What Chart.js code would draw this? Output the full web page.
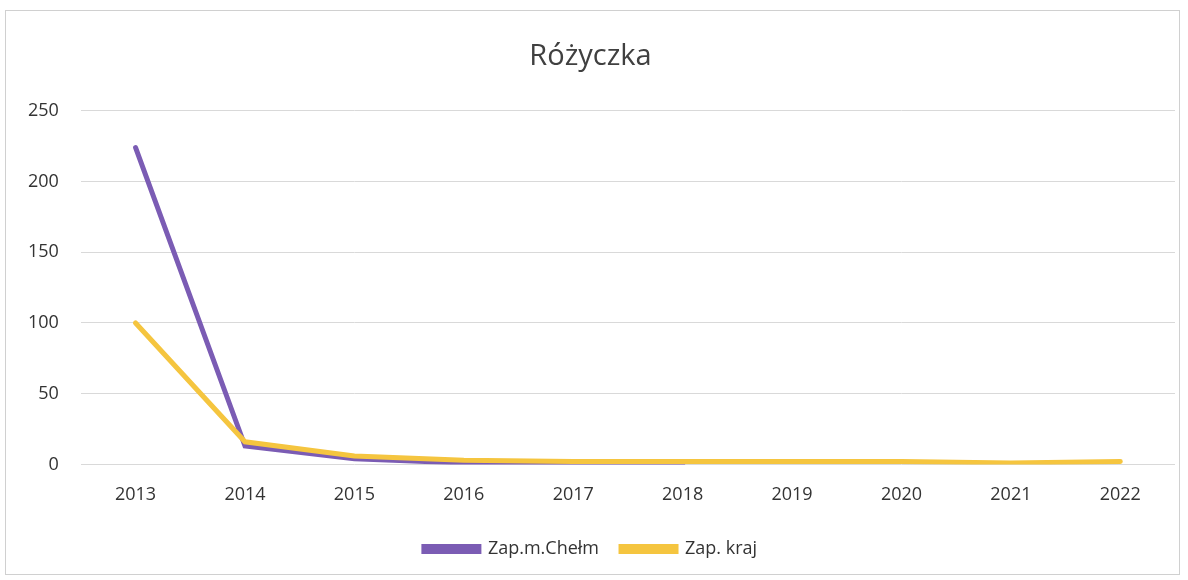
<!DOCTYPE html>
<html lang="pl">
<head>
    <meta charset="UTF-8">
    <title>Różyczka</title>
    <script src="https://cdn.jsdelivr.net/npm/chart.js"></script>
    <style>
        html, body { margin: 0; padding: 0; background: #fff; }
        .wrap {
            position: absolute;
            left: 5px; top: 10px;
            width: 1175px; height: 565px;
            border: 1px solid #d0d0d0;
            box-sizing: border-box;
        }
    </style>
</head>
<body>
    <div class="wrap"><canvas id="chart"></canvas></div>

    <script>
        // Dane
        const lata = ['2013', '2014', '2015', '2016', '2017', '2018', '2019', '2020', '2021', '2022'];
        const zapChelm = [224, 13, 4, 1, 0, 0, null, null, null, null];
        const zapKraj = [100, 16, 6, 3, 2, 2, 2, 2, 1, 2];
        const yTicks = [0, 50, 100, 150, 200, 250];

        const ctx = document.getElementById('chart').getContext('2d');
        new Chart(ctx, {
            type: 'line',
            data: {
                labels: lata,
                datasets: [
                    {
                        label: 'Zap.m.Chełm',
                        data: zapChelm,
                        borderColor: '#7b5cb4',
                        backgroundColor: '#7b5cb4',
                        borderWidth: 5,
                        pointRadius: 0,
                        tension: 0,
                        borderCapStyle: 'round',
                        spanGaps: false,
                        order: 1
                    },
                    {
                        label: 'Zap. kraj',
                        data: zapKraj,
                        borderColor: '#f5c53f',
                        backgroundColor: '#f5c53f',
                        borderWidth: 5,
                        pointRadius: 0,
                        tension: 0,
                        borderCapStyle: 'round',
                        order: 0
                    }
                ]
            },
            options: {
                responsive: true,
                maintainAspectRatio: false,
                animation: false,
                layout: { padding: { left: 0, right: 4, top: 18, bottom: 6 } },
                plugins: {
                    title: {
                        display: true,
                        text: 'Różyczka',
                        color: '#404040',
                        font: { family: 'Open Sans', size: 29, weight: 'normal' },
                        padding: { top: 10, bottom: 37 }
                    },
                    legend: {
                        position: 'bottom',
                        labels: {
                            color: '#333',
                            font: { family: 'Open Sans', size: 18 },
                            boxWidth: 55,
                            boxHeight: 5,
                            padding: 22,
                            // kolejność w legendzie wg indeksu, nie wg warstwy
                            sort: (a, b) => a.datasetIndex - b.datasetIndex
                        }
                    },
                    tooltip: { enabled: false }
                },
                scales: {
                    x: {
                        offset: true,
                        grid: { display: false },
                        border: { display: false },
                        ticks: {
                            color: '#333',
                            font: { family: 'Open Sans', size: 18 },
                            padding: 12
                        }
                    },
                    y: {
                        min: 0,
                        max: 250,
                        afterBuildTicks: axis => { axis.ticks = yTicks.map(v => ({ value: v })); },
                        grid: { color: '#d9d9d9', lineWidth: 1, drawTicks: false },
                        border: { display: false },
                        ticks: {
                            color: '#333',
                            font: { family: 'Open Sans', size: 18 },
                            padding: 22
                        }
                    }
                }
            }
        });
    </script>
</body>
</html>
